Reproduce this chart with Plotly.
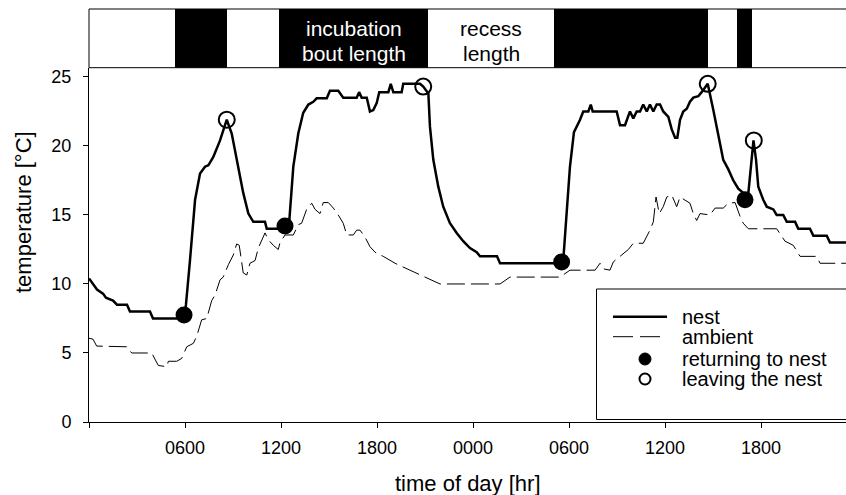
import plotly.graph_objects as go

# ---------------- data (hours since 00:00 of day 1) ----------------
nest_hr = [0.0, 0.25, 0.5, 0.875, 1.06, 1.5, 1.75, 2.375, 2.56, 3.81, 4.0, 5.94,
           6.06, 6.31, 6.63, 6.94, 7.25, 7.46, 7.77, 8.19, 8.61, 8.92, 9.33, 9.64,
           9.96, 10.27, 11.0, 11.11, 11.83, 12.25, 12.52, 12.77, 13.08, 13.39, 13.71,
           14.02, 14.23, 14.86, 15.06, 15.58, 15.89, 16.73, 16.88, 17.04, 17.36,
           17.56, 17.77, 17.98, 18.14, 18.71, 18.86, 19.02, 19.54, 19.64, 20.69,
           20.89, 21.21, 21.31, 21.52, 21.83, 22.14, 22.56, 22.98, 23.39, 23.81,
           24.23, 24.44, 25.5, 25.69, 29.54, 29.64, 29.86, 30.06, 30.31, 30.69,
           30.89, 31.21, 31.36, 31.48, 32.98, 33.19, 33.5, 33.81, 34.02, 34.23,
           34.44, 34.64, 34.86, 35.06, 35.27, 35.48, 35.69, 35.89, 36.21, 36.42,
           36.63, 36.77, 36.94, 37.14, 37.36, 37.56, 37.77, 38.08, 38.29, 38.67,
           39.02, 39.33, 39.64, 39.96, 40.27, 40.58, 40.89, 41.0, 41.21, 41.53,
           41.69, 41.83, 42.14, 42.36, 42.77, 42.98, 43.39, 43.61, 44.13, 44.33,
           45.06, 45.27, 46.11, 46.31, 47.31]
nest_temp = [10.4, 10.0, 9.6, 9.3, 9.0, 8.8, 8.5, 8.5, 8.0, 8.0, 7.5, 7.5,
             8.5, 11.7, 16.1, 18.0, 18.5, 18.6, 19.2, 20.4, 21.9, 20.9, 18.3, 16.6,
             15.1, 14.5, 14.5, 14.0, 14.0, 14.0, 14.6, 18.5, 20.9, 22.4, 23.0,
             23.2, 23.45, 23.45, 24.0, 24.0, 23.5, 23.5, 23.9, 23.5, 23.5,
             22.5, 22.6, 23.1, 23.9, 23.9, 24.5, 23.9, 23.9, 24.5, 24.5,
             24.3, 23.8, 21.4, 19.0, 17.05, 15.6, 14.4, 13.7, 13.1, 12.6,
             12.3, 12.0, 12.0, 11.5, 11.5, 11.7, 15.4, 18.5, 21.0, 21.9,
             22.5, 22.5, 23.0, 22.5, 22.5, 21.5, 21.5, 22.5, 22.0, 22.5,
             22.5, 23.0, 22.5, 23.0, 22.5, 23.0, 23.0, 22.5, 22.1, 21.2,
             20.6, 20.6, 21.9, 22.5, 22.7, 23.2, 23.5, 23.6, 23.9, 24.5,
             22.6, 20.7, 19.0, 18.3, 17.5, 16.9, 16.6, 16.1, 16.6, 20.4,
             19.0, 17.05, 16.1, 15.6, 15.4, 15.0, 15.0, 14.5, 14.5, 14.0,
             14.0, 13.5, 13.5, 13.0, 13.0]

ambient_hr = [0.0, 0.25, 0.48, 2.36, 2.67, 3.92, 4.33, 4.86, 4.96, 5.48, 5.79, 6.11,
              6.52, 6.73, 7.04, 7.36, 7.67, 7.88, 8.19, 8.39, 8.71, 9.02, 9.23, 9.39,
              9.64, 9.86, 10.06, 10.38, 10.58, 10.86, 11.0, 11.21, 11.52, 11.83, 11.94,
              12.25, 12.77, 13.08, 13.29, 13.6, 13.92, 14.13, 14.44, 14.64, 14.96,
              15.27, 15.58, 15.89, 16.11, 16.52, 16.73, 16.94, 17.25, 17.56, 17.88,
              18.39, 19.13, 20.06, 21.0, 21.94, 25.69, 26.31, 29.44, 30.06, 31.63,
              31.94, 32.14, 32.56, 32.77, 33.19, 33.71, 34.02, 34.64, 35.06, 35.27,
              35.44, 35.64, 35.89, 36.11, 36.42, 36.73, 36.94, 37.25, 37.56, 37.77,
              37.98, 38.19, 38.81, 39.13, 39.64, 39.96, 40.38, 40.69, 40.89, 41.21,
              42.98, 43.5, 44.02, 44.44, 45.48, 45.69, 47.31]
ambient_temp = [6.07, 6.0, 5.5, 5.45, 5.0, 5.0, 4.1, 4.0, 4.4, 4.4, 4.6, 5.45,
                5.7, 6.2, 7.4, 7.5, 8.8, 9.2, 10.3, 10.5, 11.4, 12.1, 12.9, 12.8,
                10.8, 10.65, 11.5, 11.7, 12.6, 13.4, 13.7, 13.2, 12.8, 12.5, 13.0,
                13.55, 13.55, 14.3, 14.4, 15.4, 15.85, 15.4, 15.1, 15.9, 15.9,
                15.5, 15.0, 14.4, 13.55, 13.55, 13.9, 13.9, 13.4, 12.7, 12.3,
                12.0, 11.5, 11.0, 10.5, 10.0, 10.0, 10.5, 10.5, 11.0, 11.0,
                11.5, 11.1, 11.0, 11.6, 12.0, 12.5, 12.95, 12.95, 13.9, 14.5,
                16.3, 15.1, 15.6, 16.3, 16.45, 15.6, 16.3, 16.1, 15.85, 15.1,
                14.6, 15.1, 15.0, 15.5, 15.5, 15.85, 15.9, 14.9, 14.4, 14.0,
                14.0, 13.1, 12.8, 12.0, 12.0, 11.5, 11.5]

return_hr = [5.94, 12.25, 29.54, 41.0]
return_temp = [7.75, 14.2, 11.6, 16.1]
leave_hr = [8.61, 20.89, 38.67, 41.55]
leave_temp = [21.9, 24.3, 24.5, 20.4]

bout_start = [5.375, 11.875, 29.06, 40.5]
bout_end = [8.625, 21.19, 38.69, 41.44]

tick_hr = [0, 6, 12, 18, 24, 30, 36, 42]
tick_text = ["", "0600", "1200", "1800", "0000", "0600", "1200", "1800"]
y_ticks = [0, 5, 10, 15, 20, 25]

# ---------------- layout helpers ----------------
W, H = 846, 495
ML, MR, MT, MB = 89, 0, 9, 73
PW = W - ML - MR
PH = H - MT - MB
FONT = "Liberation Sans, Arial, sans-serif"


def px(xp):
    return (xp - ML) / PW


def py(yp):
    return (H - MB - yp) / PH


split = py(67.7)

fig = go.Figure()

# top bar: incubation bouts as horizontal bars
fig.add_trace(go.Bar(
    y=[0] * len(bout_start), base=bout_start,
    x=[e - s for s, e in zip(bout_start, bout_end)],
    orientation="h", width=1, marker=dict(color="black", line=dict(width=0)),
    xaxis="x", yaxis="y2", showlegend=False, hoverinfo="skip"))

fig.add_trace(go.Scatter(x=ambient_hr, y=ambient_temp, mode="lines",
                         line=dict(color="black", width=1, dash="18px,6px"),
                         name="ambient", showlegend=False))
fig.add_trace(go.Scatter(x=nest_hr, y=nest_temp, mode="lines",
                         line=dict(color="black", width=2.5),
                         name="nest", showlegend=False))
fig.add_trace(go.Scatter(x=return_hr, y=return_temp, mode="markers",
                         marker=dict(symbol="circle", size=17, color="black"),
                         name="returning to nest", showlegend=False))
fig.add_trace(go.Scatter(x=leave_hr, y=leave_temp, mode="markers",
                         marker=dict(symbol="circle-open", size=16, color="black",
                                     line=dict(width=2, color="black")),
                         name="leaving the nest", showlegend=False))

shapes = []
# frame of top bar
shapes.append(dict(type="rect", xref="paper", yref="paper", x0=0, x1=1.05,
                   y0=split, y1=1, line=dict(color="black", width=1)))
# legend box
shapes.append(dict(type="rect", xref="paper", yref="paper", x0=px(596.5), x1=1.05,
                   y0=py(419.5), y1=py(289), line=dict(color="black", width=1),
                   fillcolor="white", layer="above"))
# legend samples
shapes.append(dict(type="line", xref="paper", yref="paper", x0=px(613), x1=px(667),
                   y0=py(316.7), y1=py(316.7), line=dict(color="black", width=2.5)))
shapes.append(dict(type="line", xref="paper", yref="paper", x0=px(613), x1=px(667),
                   y0=py(336.7), y1=py(336.7),
                   line=dict(color="black", width=1, dash="20px,7px")))
shapes.append(dict(type="circle", xref="paper", yref="paper", xsizemode="pixel",
                   ysizemode="pixel", xanchor=px(645), yanchor=py(359),
                   x0=-6, x1=6, y0=-6, y1=6, fillcolor="black",
                   line=dict(color="black", width=1)))
shapes.append(dict(type="circle", xref="paper", yref="paper", xsizemode="pixel",
                   ysizemode="pixel", xanchor=px(645), yanchor=py(379),
                   x0=-5.5, x1=5.5, y0=-5.5, y1=5.5,
                   line=dict(color="black", width=2)))

annotations = []
legend_items = [("nest", 316.7), ("ambient", 336.7),
                ("returning to nest", 359), ("leaving the nest", 379)]
for txt, yy in legend_items:
    annotations.append(dict(text=txt, xref="paper", yref="paper", x=px(680), y=py(yy),
                            xanchor="left", yanchor="middle", showarrow=False,
                            font=dict(family=FONT, size=20, color="black")))

bout_mid = (bout_start[1] + bout_end[1]) / 2
recess_mid = (bout_end[1] + bout_start[2]) / 2
for txt, xx, yy, col in [("incubation", bout_mid, 28.3, "white"),
                         ("bout length", bout_mid, 53.3, "white"),
                         ("recess", recess_mid, 28.3, "black"),
                         ("length", recess_mid, 53.3, "black")]:
    annotations.append(dict(text=txt, xref="x", yref="paper", x=xx, y=py(yy),
                            xanchor="center", yanchor="middle", showarrow=False,
                            font=dict(family=FONT, size=21, color=col)))

annotations.append(dict(text="temperature [°C]", xref="paper", yref="paper",
                        x=px(23), y=py(212), textangle=-90, xanchor="center",
                        yanchor="middle", showarrow=False,
                        font=dict(family=FONT, size=22, color="black")))
annotations.append(dict(text="time of day [hr]", xref="paper", yref="paper",
                        x=px(468), y=py(483), xanchor="center", yanchor="middle",
                        showarrow=False, font=dict(family=FONT, size=22, color="black")))

fig.update_layout(
    width=W, height=H,
    margin=dict(l=ML, r=MR, t=MT, b=MB),
    paper_bgcolor="white", plot_bgcolor="white",
    showlegend=False,
    font=dict(family=FONT, color="black"),
    xaxis=dict(range=[0, (W - MR - ML) / 16.0], tickvals=tick_hr, ticktext=tick_text,
               ticks="outside", ticklen=5, tickwidth=1, tickcolor="black",
               showline=True, linecolor="black", linewidth=1, showgrid=False,
               zeroline=False, tickfont=dict(size=18, family=FONT, color="black"),
               ticklabelstandoff=4),
    yaxis=dict(domain=[0, split], range=[0, 25.67], tickvals=y_ticks,
               ticks="outside", ticklen=5, tickwidth=1, tickcolor="black",
               showline=True, linecolor="black", linewidth=1, showgrid=False,
               zeroline=False, tickfont=dict(size=18, family=FONT, color="black"),
               ticklabelstandoff=8),
    yaxis2=dict(domain=[split, 1], range=[-0.5, 0.5], visible=False, anchor="x",
                fixedrange=True),
    bargap=0,
    shapes=shapes,
    annotations=annotations,
)

fig.write_html("out.html")
